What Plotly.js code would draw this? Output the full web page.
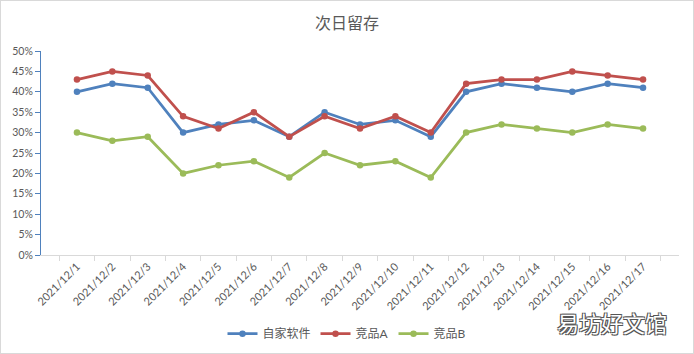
<!DOCTYPE html>
<html>
<head>
<meta charset="utf-8">
<script src="https://cdn.plot.ly/plotly-3.0.1.min.js"></script>
<style>
html,body{margin:0;padding:0;background:#fff;}
#wrap{width:692px;height:352px;border:1px solid #d9d9d9;}
#chart{width:692px;height:352px;}
</style>
</head>
<body>
<div id="wrap"><div id="chart"></div></div>
<script>
const dates = ["2021/12/1","2021/12/2","2021/12/3","2021/12/4","2021/12/5","2021/12/6","2021/12/7","2021/12/8","2021/12/9","2021/12/10","2021/12/11","2021/12/12","2021/12/13","2021/12/14","2021/12/15","2021/12/16","2021/12/17"];
const seriesNames = ["自家软件","竞品A","竞品B"];
const own   = [0.40,0.42,0.41,0.30,0.32,0.33,0.29,0.35,0.32,0.33,0.29,0.40,0.42,0.41,0.40,0.42,0.41];
const compA = [0.43,0.45,0.44,0.34,0.31,0.35,0.29,0.34,0.31,0.34,0.30,0.42,0.43,0.43,0.45,0.44,0.43];
const compB = [0.30,0.28,0.29,0.20,0.22,0.23,0.19,0.25,0.22,0.23,0.19,0.30,0.32,0.31,0.30,0.32,0.31];
const yTicks = [0,0.05,0.10,0.15,0.20,0.25,0.30,0.35,0.40,0.45,0.50];
const yTickText = ["0%","5%","10%","15%","20%","25%","30%","35%","40%","45%","50%"];

const colors = ["#4F81BD","#C0504D","#9BBB59"];
const vals = [own, compA, compB];
const traces = vals.map((v,i)=>({
  type:"scatter", mode:"lines+markers", name: seriesNames[i],
  x: dates, y: v,
  line:{color:colors[i], width:2.75},
  marker:{color:colors[i], size:6.5},
  cliponaxis:false
}));

const fontFam = "Lato, 'Noto Sans CJK SC', sans-serif";
const layout = {
  width:692, height:352,
  margin:{l:40, r:14, t:50, b:98},
  paper_bgcolor:"#fff", plot_bgcolor:"#fff",
  title:{text:"次日留存", x:0.5, xref:"container", y:0.935, yref:"container", yanchor:"middle",
         font:{family:"'Noto Sans CJK SC', sans-serif", size:16, color:"#595959"}},
  xaxis:{type:"category", tickangle:-45, showgrid:false, showline:true, linecolor:"#d9d9d9", linewidth:1,
         ticks:"outside", tickson:"boundaries", ticklen:5, tickcolor:"#d9d9d9",
         tickfont:{family:fontFam, size:11, color:"#595959"}, zeroline:false, fixedrange:true},
  yaxis:{range:[0,0.5], tickvals:yTicks, ticktext:yTickText, showgrid:false, showline:true,
         linecolor:"#4F81BD", linewidth:1, ticks:"outside", ticklen:5, tickcolor:"#4F81BD",
         tickfont:{family:fontFam, size:10.5, color:"#595959"}, zeroline:false, fixedrange:true},
  showlegend:true,
  legend:{orientation:"h", x:0.5, xref:"container", xanchor:"center", y:0.055, yref:"container", yanchor:"middle",
          font:{family:fontFam, size:12, color:"#595959"}, itemwidth:30, tracegroupgap:0},
  annotations:[{text:"易坊好文馆", xref:"paper", yref:"paper", x:0.985, xanchor:"right", y:-0.328, yanchor:"middle",
    showarrow:false, font:{family:"'Noto Sans CJK SC', sans-serif", size:22, color:"#ffffff",
    shadow:"1px 1px 0 #555, -1px -1px 0 #555, 1px -1px 0 #555, -1px 1px 0 #555"}}]
};
Plotly.newPlot("chart", traces, layout, {displayModeBar:false, staticPlot:true});
</script>
</body>
</html>
